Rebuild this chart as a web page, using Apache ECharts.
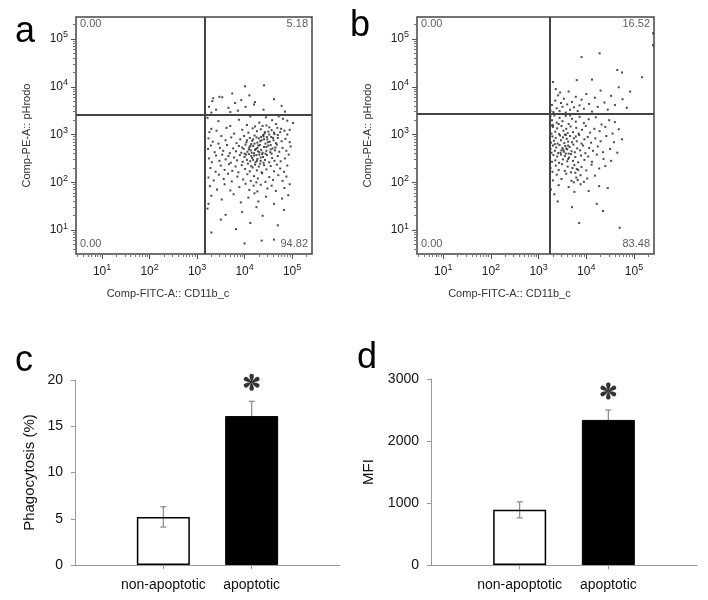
<!DOCTYPE html>
<html><head><meta charset="utf-8">
<script src="https://cdn.jsdelivr.net/npm/echarts@6/dist/echarts.min.js"></script>
<style>html,body{margin:0;padding:0;background:#fff}#c{width:708px;height:600px}</style>
</head><body><div id="c"></div>
<script>
// ---------- DATA ----------
// flow cytometry events, log10 units [CD11b (FITC), pHrodo (PE)]
const flowA = [
[3.22,3.35],[3.45,3.28],[3.88,3.31],[4.12,3.38],[4.31,3.25],[4.45,3.36],[4.58,3.3],[4.66,3.22],[4.72,3.38],[4.81,3.33],[4.9,3.29],[5.02,3.24],[4.38,3.18],[4.05,3.2],[3.3,3.12],[4.52,3.15],[4.77,3.12],[4.95,3.1],
[3.26,3.05],[3.41,3.08],[3.62,3.14],[3.78,3.02],[3.95,3.1],[4.08,3.04],[4.17,3.13],[4.26,3.07],[4.34,3.11],[4.42,3.02],[4.5,3.06],[4.57,3.09],[4.63,3.01],[4.69,3.14],[4.75,3.05],[4.84,3.08],[4.9,3.0],[4.22,3.17],[4.46,3.19],[3.7,3.18],
[3.24,2.92],[3.33,2.85],[3.51,2.97],[3.6,2.88],[3.72,2.94],[3.83,2.82],[3.91,2.9],[3.99,2.97],[4.04,2.84],[4.11,2.93],[4.16,2.87],[4.21,2.98],[4.27,2.83],[4.3,2.92],[4.36,2.88],[4.4,2.96],[4.44,2.81],[4.48,2.9],[4.53,2.85],[4.56,2.95],[4.61,2.88],[4.66,2.82],[4.7,2.93],[4.78,2.86],[4.86,2.91],[4.95,2.84],[4.39,2.99],[4.25,2.94],[4.14,2.8],[3.45,2.81],
[3.23,2.7],[3.29,2.77],[3.37,2.63],[3.48,2.72],[3.55,2.66],[3.63,2.78],[3.69,2.61],[3.76,2.71],[3.82,2.65],[3.88,2.76],[3.93,2.62],[3.98,2.7],[4.02,2.79],[4.06,2.64],[4.1,2.73],[4.13,2.67],[4.18,2.76],[4.2,2.61],[4.24,2.7],[4.28,2.65],[4.32,2.78],[4.35,2.68],[4.38,2.62],[4.41,2.74],[4.46,2.66],[4.5,2.77],[4.54,2.63],[4.59,2.71],[4.64,2.67],[4.68,2.79],[4.73,2.64],[4.8,2.72],[4.88,2.66],[4.97,2.75],[4.22,2.68],[4.15,2.62],[4.27,2.72],[3.95,2.73],
[3.25,2.5],[3.31,2.42],[3.4,2.56],[3.47,2.45],[3.53,2.58],[3.6,2.48],[3.66,2.55],[3.71,2.41],[3.78,2.52],[3.84,2.46],[3.9,2.57],[3.96,2.43],[4.0,2.53],[4.05,2.47],[4.09,2.59],[4.12,2.44],[4.16,2.51],[4.2,2.56],[4.23,2.42],[4.27,2.49],[4.31,2.58],[4.34,2.45],[4.39,2.53],[4.43,2.47],[4.47,2.57],[4.52,2.42],[4.58,2.51],[4.63,2.45],[4.7,2.55],[4.76,2.44],[4.85,2.5],[4.93,2.58],[4.18,2.47],[4.03,2.58],
[3.28,2.3],[3.39,2.22],[3.5,2.35],[3.58,2.26],[3.67,2.38],[3.74,2.24],[3.81,2.33],[3.87,2.21],[3.94,2.36],[4.01,2.28],[4.07,2.39],[4.11,2.23],[4.17,2.31],[4.22,2.37],[4.26,2.25],[4.3,2.33],[4.36,2.21],[4.41,2.36],[4.46,2.27],[4.55,2.34],[4.62,2.23],[4.68,2.37],[4.75,2.29],[4.83,2.22],[4.9,2.35],[4.14,2.34],[4.33,2.39],
[3.24,2.1],[3.35,2.04],[3.46,2.16],[3.56,2.07],[3.65,2.18],[3.73,2.02],[3.85,2.12],[3.97,2.06],[4.06,2.17],[4.13,2.03],[4.2,2.13],[4.28,2.08],[4.37,2.19],[4.44,2.01],[4.52,2.11],[4.6,2.05],[4.71,2.15],[4.8,2.03],[4.88,2.12],[4.25,2.0],
[3.27,1.92],[3.42,1.85],[3.58,1.96],[3.7,1.83],[3.89,1.9],[4.02,1.97],[4.1,1.84],[4.19,1.93],[4.27,1.81],[4.34,1.95],[4.48,1.87],[4.57,1.93],[4.66,1.82],[4.84,1.88],[4.95,1.96],
[3.3,1.72],[3.52,1.64],[3.77,1.75],[3.92,1.58],[4.08,1.68],[4.21,1.77],[4.29,1.6],[4.45,1.7],[4.62,1.55],[4.79,1.66],[4.92,1.73],[3.24,1.55],
[3.22,1.45],[3.6,1.32],[3.5,1.22],[3.95,1.38],[4.12,1.15],[4.38,1.3],[4.7,1.1],[4.83,1.42],[3.3,0.95],[4.0,0.72],[4.36,0.78],[4.62,0.8],[3.82,1.02],[4.25,1.48],
[4.21,2.81],[4.33,2.86],[4.41,2.9],[4.46,2.74],[4.29,2.77],[4.37,2.59],[4.49,2.84],[4.55,2.78],[4.6,2.93],[4.52,3.0],[4.43,3.05],[4.35,2.95],[4.18,2.9],[4.25,2.57],[4.31,2.63],[4.44,2.6],[4.09,2.69],[4.0,2.6],[4.14,2.55],[4.26,2.45],[4.4,2.41],[4.57,2.6],[4.65,2.73],[4.62,3.04],[4.7,2.99],[4.55,2.69],[4.34,2.52],[4.12,2.76],[4.05,2.88],[4.47,2.95],
[3.25,3.58],[3.32,3.7],[3.4,3.52],[3.47,3.79],[3.53,3.78],[3.34,3.76],[3.66,3.56],[3.74,3.86],[3.8,3.66],[3.86,3.5],[3.93,3.72],[4.02,3.58],[4.22,3.68],[4.2,3.63],[4.01,4.01],[4.41,4.03],[4.62,3.74],[4.4,3.52],[4.85,3.48],[3.3,3.46],[3.7,3.47],[4.78,3.6],[4.1,3.82]
];
const flowB = [
[3.25,3.38],[3.28,3.3],[3.33,3.4],[3.38,3.25],[3.44,3.35],[3.5,3.28],[3.57,3.39],[3.63,3.22],[3.7,3.33],[3.78,3.27],[3.86,3.37],[3.95,3.24],[4.05,3.32],[4.2,3.36],[4.32,3.21],[4.48,3.3],[3.3,3.2],[3.42,3.22],[3.66,3.4],[4.6,3.26],
[3.24,3.1],[3.27,3.02],[3.3,3.16],[3.35,3.06],[3.39,3.13],[3.43,3.01],[3.48,3.18],[3.52,3.08],[3.58,3.12],[3.61,3.03],[3.67,3.17],[3.72,3.05],[3.79,3.14],[3.84,3.02],[3.91,3.1],[3.99,3.18],[4.08,3.04],[4.17,3.12],[4.28,3.07],[4.4,3.16],[4.55,3.02],[4.68,3.11],[3.26,3.19],[3.55,3.0],
[3.24,2.9],[3.26,2.83],[3.29,2.96],[3.32,2.87],[3.36,2.93],[3.4,2.81],[3.45,2.98],[3.47,2.88],[3.51,2.94],[3.54,2.82],[3.59,2.91],[3.62,2.85],[3.66,2.97],[3.7,2.84],[3.74,2.92],[3.8,2.86],[3.85,2.99],[3.9,2.81],[3.96,2.9],[4.03,2.95],[4.1,2.83],[4.19,2.92],[4.3,2.86],[4.42,2.97],[4.58,2.84],[4.75,2.9],[3.34,2.8],[3.57,2.99],[3.78,2.96],
[3.25,2.7],[3.27,2.62],[3.3,2.77],[3.34,2.66],[3.37,2.73],[3.41,2.61],[3.44,2.78],[3.48,2.67],[3.5,2.72],[3.53,2.64],[3.56,2.76],[3.6,2.69],[3.63,2.6],[3.65,2.74],[3.69,2.65],[3.73,2.79],[3.76,2.63],[3.81,2.71],[3.87,2.67],[3.93,2.77],[3.98,2.61],[4.06,2.72],[4.14,2.66],[4.24,2.75],[4.35,2.63],[4.5,2.7],[4.65,2.62],[3.58,2.71],[3.62,2.77],[3.52,2.68],[3.46,2.62],
[3.24,2.5],[3.28,2.43],[3.31,2.57],[3.35,2.46],[3.39,2.54],[3.43,2.41],[3.47,2.58],[3.51,2.48],[3.55,2.55],[3.6,2.44],[3.64,2.52],[3.68,2.59],[3.72,2.45],[3.77,2.53],[3.83,2.42],[3.89,2.56],[3.96,2.47],[4.04,2.54],[4.12,2.43],[4.22,2.58],[4.36,2.49],[4.52,2.45],[3.57,2.6],[3.62,2.49],
[3.25,2.3],[3.29,2.22],[3.36,2.35],[3.42,2.26],[3.49,2.38],[3.55,2.24],[3.61,2.33],[3.68,2.21],[3.75,2.36],[3.8,2.28],[3.9,2.32],[4.0,2.25],[4.11,2.37],[4.27,2.29],[4.4,2.34],[3.71,2.3],[3.77,2.2],[3.83,2.26],
[3.24,2.12],[3.3,2.04],[3.38,2.16],[3.48,2.07],[3.58,2.18],[3.69,2.03],[3.79,2.1],[3.88,2.15],[3.74,2.0],[3.82,2.05],[4.02,2.08],[4.18,2.14],[3.95,2.01],
[3.26,1.85],[3.42,1.94],[3.63,1.9],[3.75,1.8],[3.88,1.96],[4.05,1.82],[4.27,1.92],[3.33,1.75],[4.45,1.88],
[3.7,1.48],[4.22,1.55],[4.35,1.4],[3.85,1.15],[4.7,1.05],[3.4,1.6],
[3.25,3.5],[3.28,3.62],[3.31,3.47],[3.35,3.71],[3.38,3.55],[3.41,3.82],[3.44,3.49],[3.47,3.66],[3.5,3.58],[3.53,3.75],[3.57,3.46],[3.6,3.63],[3.63,3.9],[3.66,3.52],[3.7,3.68],[3.74,3.57],[3.78,3.79],[3.82,3.49],[3.86,3.61],[3.9,3.73],[3.95,3.54],[4.0,3.85],[4.06,3.64],[4.12,3.48],[4.18,3.77],[4.24,3.58],[4.3,3.92],[4.38,3.67],[4.45,3.52],[4.52,3.81],[4.6,3.62],[4.68,3.99],[4.76,3.74],[4.85,3.56],[4.92,3.9],[3.36,3.95],[3.45,3.88],
[4.28,4.7],[3.9,4.62],[5.17,4.2],[4.75,4.3],[5.4,5.12],[5.4,4.87],[3.3,4.1],[3.8,4.14],[4.12,4.15],[4.65,4.35]
];
const gateA = [3.17, 3.41];
const gateB = [3.23, 3.43];
const quadLabelsA = ['0.00', '5.18', '0.00', '94.82'];
const quadLabelsB = ['0.00', '16.52', '0.00', '83.48'];
const decadeTicks = [1, 2, 3, 4, 5];

const barCategories = ['', 'non-apoptotic', 'apoptotic', ''];
const phagValues = [5.2, 16.1];
const phagErr = [1.1, 1.6];
const mfiValues = [890, 2340];
const mfiErr = [130, 160];
const phagTicks = [0, 5, 10, 15, 20];
const mfiTicks = [0, 1000, 2000, 3000];

// ---------- CHART ----------
const FF = '"Liberation Sans", Arial, Helvetica, sans-serif';
const X_RANGE = [0.45, 5.42];
const Y_RANGE = [0.5, 5.46];

function minorTicks(range) {
  const out = [];
  for (let n = 0; n <= 5; n++) for (let k = 2; k <= 9; k++) {
    const v = n + Math.log10(k);
    if (v > range[0] && v < range[1]) out.push(v);
  }
  return out;
}
const supRich = {
  b: { fontSize: 12, color: '#222', fontFamily: FF },
  s: { fontSize: 9, color: '#222', fontFamily: FF, padding: [0, 0, 8, 0] }
};
function supFmt(v) { return '{b|10}{s|' + Math.round(v) + '}'; }

function flowX(gi, range, nameShiftPad) {
  return [{
    type: 'value', gridIndex: gi, position: 'bottom', min: range[0], max: range[1],
    axisLine: { show: false }, splitLine: { show: false },
    axisTick: { show: true, customValues: decadeTicks, length: 5, lineStyle: { color: '#555' } },
    axisLabel: { customValues: decadeTicks, formatter: supFmt, rich: supRich, margin: 9 },
    name: 'Comp-FITC-A:: CD11b_c', nameLocation: 'middle', nameGap: 34,
    nameTextStyle: { fontSize: 11, color: '#333', fontFamily: FF, padding: [0, nameShiftPad, 0, 0] }
  }, {
    type: 'value', gridIndex: gi, position: 'bottom', min: range[0], max: range[1],
    axisLine: { show: false }, splitLine: { show: false }, axisLabel: { show: false },
    axisTick: { show: true, customValues: minorTicks(range), length: 3, lineStyle: { color: '#777' } }
  }];
}
function flowY(gi, range) {
  return [{
    type: 'value', gridIndex: gi, position: 'left', min: range[0], max: range[1],
    axisLine: { show: false }, splitLine: { show: false },
    axisTick: { show: true, customValues: decadeTicks, length: 5, lineStyle: { color: '#555' } },
    axisLabel: { customValues: decadeTicks, formatter: supFmt, rich: supRich, margin: 8 },
    name: 'Comp-PE-A:: pHrodo', nameLocation: 'middle', nameGap: 44,
    nameTextStyle: { fontSize: 11, color: '#333', fontFamily: FF }
  }, {
    type: 'value', gridIndex: gi, position: 'left', min: range[0], max: range[1],
    axisLine: { show: false }, splitLine: { show: false }, axisLabel: { show: false },
    axisTick: { show: true, customValues: minorTicks(range), length: 3, lineStyle: { color: '#777' } }
  }];
}
function flowSeries(axIdx, data, gate, labels) {
  const pos = [
    [X_RANGE[0], Y_RANGE[1], labels[0], 'left', 'top', [4, 1]],
    [X_RANGE[1], Y_RANGE[1], labels[1], 'right', 'top', [-4, 1]],
    [X_RANGE[0], Y_RANGE[0], labels[2], 'left', 'bottom', [4, -5]],
    [X_RANGE[1], Y_RANGE[0], labels[3], 'right', 'bottom', [-4, -5]]
  ];
  return [{
    type: 'scatter', xAxisIndex: axIdx, yAxisIndex: axIdx, data: data,
    symbol: 'rect', symbolSize: 2, itemStyle: { color: '#2a2a2a', opacity: 0.85 },
    silent: true, animation: false,
    markLine: {
      silent: true, symbol: 'none', animation: false, label: { show: false },
      lineStyle: { color: '#444', width: 2, type: 'solid' },
      data: [{ xAxis: gate[0] }, { yAxis: gate[1] }]
    }
  }, {
    type: 'scatter', xAxisIndex: axIdx, yAxisIndex: axIdx, symbolSize: 0, silent: true, animation: false,
    data: pos.map(p => ({
      value: [p[0], p[1]],
      label: { show: true, formatter: p[2], position: p[5], align: p[3], verticalAlign: p[4],
        fontSize: 11, color: '#333', fontFamily: FF }
    }))
  }];
}

function barX(gi) {
  return {
    type: 'category', gridIndex: gi, data: barCategories, boundaryGap: false,
    axisLine: { lineStyle: { color: '#999', width: 1 } },
    axisTick: { show: true, length: 4, interval: (i, v) => v !== '', lineStyle: { color: '#999' } },
    axisLabel: { interval: 0, fontSize: 14, color: '#111', fontFamily: FF, margin: 13 },
    splitLine: { show: false }
  };
}
function barY(gi, ticks, name, nameSize, nameGap) {
  return {
    type: 'value', gridIndex: gi, min: ticks[0], max: ticks[ticks.length - 1],
    interval: ticks[1] - ticks[0],
    axisLine: { show: true, lineStyle: { color: '#999', width: 1 } },
    axisTick: { show: true, length: 4, lineStyle: { color: '#999' } },
    axisLabel: { fontSize: 14, color: '#111', fontFamily: FF, margin: 12, formatter: v => String(v) },
    splitLine: { show: false },
    name: name, nameLocation: 'middle', nameGap: nameGap,
    nameTextStyle: { fontSize: nameSize, color: '#111', fontFamily: FF }
  };
}
// six-petal asterisk glyph used as a symbol
function asteriskPath() {
  let d = '';
  for (let k = 0; k < 6; k++) {
    const a = (90 + 60 * k) * Math.PI / 180;
    const P = (u, v) => {
      const x = u * Math.cos(a) - v * Math.sin(a);
      const y = -(u * Math.sin(a) + v * Math.cos(a));
      return (x * 50 + 50).toFixed(2) + ' ' + (y * 50 + 50).toFixed(2);
    };
    d += 'M' + P(0, 0) + ' C' + P(0.35, 0.2) + ' ' + P(1.03, 0.46) + ' ' + P(1.0, 0) +
         ' C' + P(1.03, -0.46) + ' ' + P(0.35, -0.2) + ' ' + P(0, 0) + ' Z ';
  }
  return 'path://' + d;
}
const ASTER = asteriskPath();

function barSeries(axIdx, values, errs) {
  const barData = ['-', 
    { value: values[0], itemStyle: { color: 'rgba(255,255,255,0)', borderColor: '#000', borderWidth: 1.5 } },
    { value: values[1], itemStyle: { color: '#000', borderColor: '#000', borderWidth: 1 } }, '-'];
  const errData = values.map((v, i) => [i + 1, v, errs[i]]);
  return [{
    type: 'custom', xAxisIndex: axIdx, yAxisIndex: axIdx, z: 1, silent: true, animation: false,
    data: errData,
    renderItem: function (params, api) {
      const x = api.value(0), v = api.value(1), e = api.value(2);
      const top = api.coord([x, v + e]);
      const bot = api.coord([x, v - e]);
      const style = { stroke: '#888', lineWidth: 1.2 };
      return { type: 'group', children: [
        { type: 'line', shape: { x1: top[0], y1: top[1], x2: bot[0], y2: bot[1] }, style: style },
        { type: 'line', shape: { x1: top[0] - 3, y1: top[1], x2: top[0] + 3, y2: top[1] }, style: style },
        { type: 'line', shape: { x1: bot[0] - 3, y1: bot[1], x2: bot[0] + 3, y2: bot[1] }, style: style }
      ] };
    }
  }, {
    type: 'bar', xAxisIndex: axIdx, yAxisIndex: axIdx, z: 2, data: barData, barWidth: 53,
    silent: true, animation: false
  }, {
    type: 'scatter', xAxisIndex: axIdx, yAxisIndex: axIdx, silent: true, animation: false,
    data: [[2, values[1] + errs[1]]],
    symbol: ASTER, symbolSize: [16, 17], symbolOffset: [0, -19],
    itemStyle: { color: '#000' }
  }];
}

const chart = echarts.init(document.getElementById('c'), null, { renderer: 'canvas' });
const xA = flowX(0, X_RANGE, 52), xB = flowX(1, X_RANGE, 52);
const yA = flowY(0, Y_RANGE), yB = flowY(1, Y_RANGE);
const letter = (t, l, tp) => ({ text: t, left: l, top: tp,
  textStyle: { fontSize: 36, fontWeight: 'normal', color: '#000', fontFamily: FF } });
chart.setOption({
  backgroundColor: '#fff',
  animation: false,
  title: [letter('a', 10, 9), letter('b', 345, 3), letter('c', 10, 338), letter('d', 352, 335)],
  grid: [
    { left: 76, top: 17, width: 236, height: 237, show: true, borderColor: '#444', borderWidth: 1.5 },
    { left: 417, top: 17, width: 237, height: 237, show: true, borderColor: '#444', borderWidth: 1.5 },
    { left: 75, top: 380, width: 265, height: 185 },
    { left: 431, top: 379, width: 266, height: 186 }
  ],
  xAxis: [xA[0], xA[1], xB[0], xB[1], barX(2), barX(3)],
  yAxis: [yA[0], yA[1], yB[0], yB[1],
    barY(2, phagTicks, 'Phagocytosis (%)', 15, 38),
    barY(3, mfiTicks, 'MFI', 15, 55)],
  series: [].concat(
    flowSeries(0, flowA, gateA, quadLabelsA),
    flowSeries(2, flowB, gateB, quadLabelsB),
    barSeries(4, phagValues, phagErr),
    barSeries(5, mfiValues, mfiErr)
  )
});
</script>
</body></html>
